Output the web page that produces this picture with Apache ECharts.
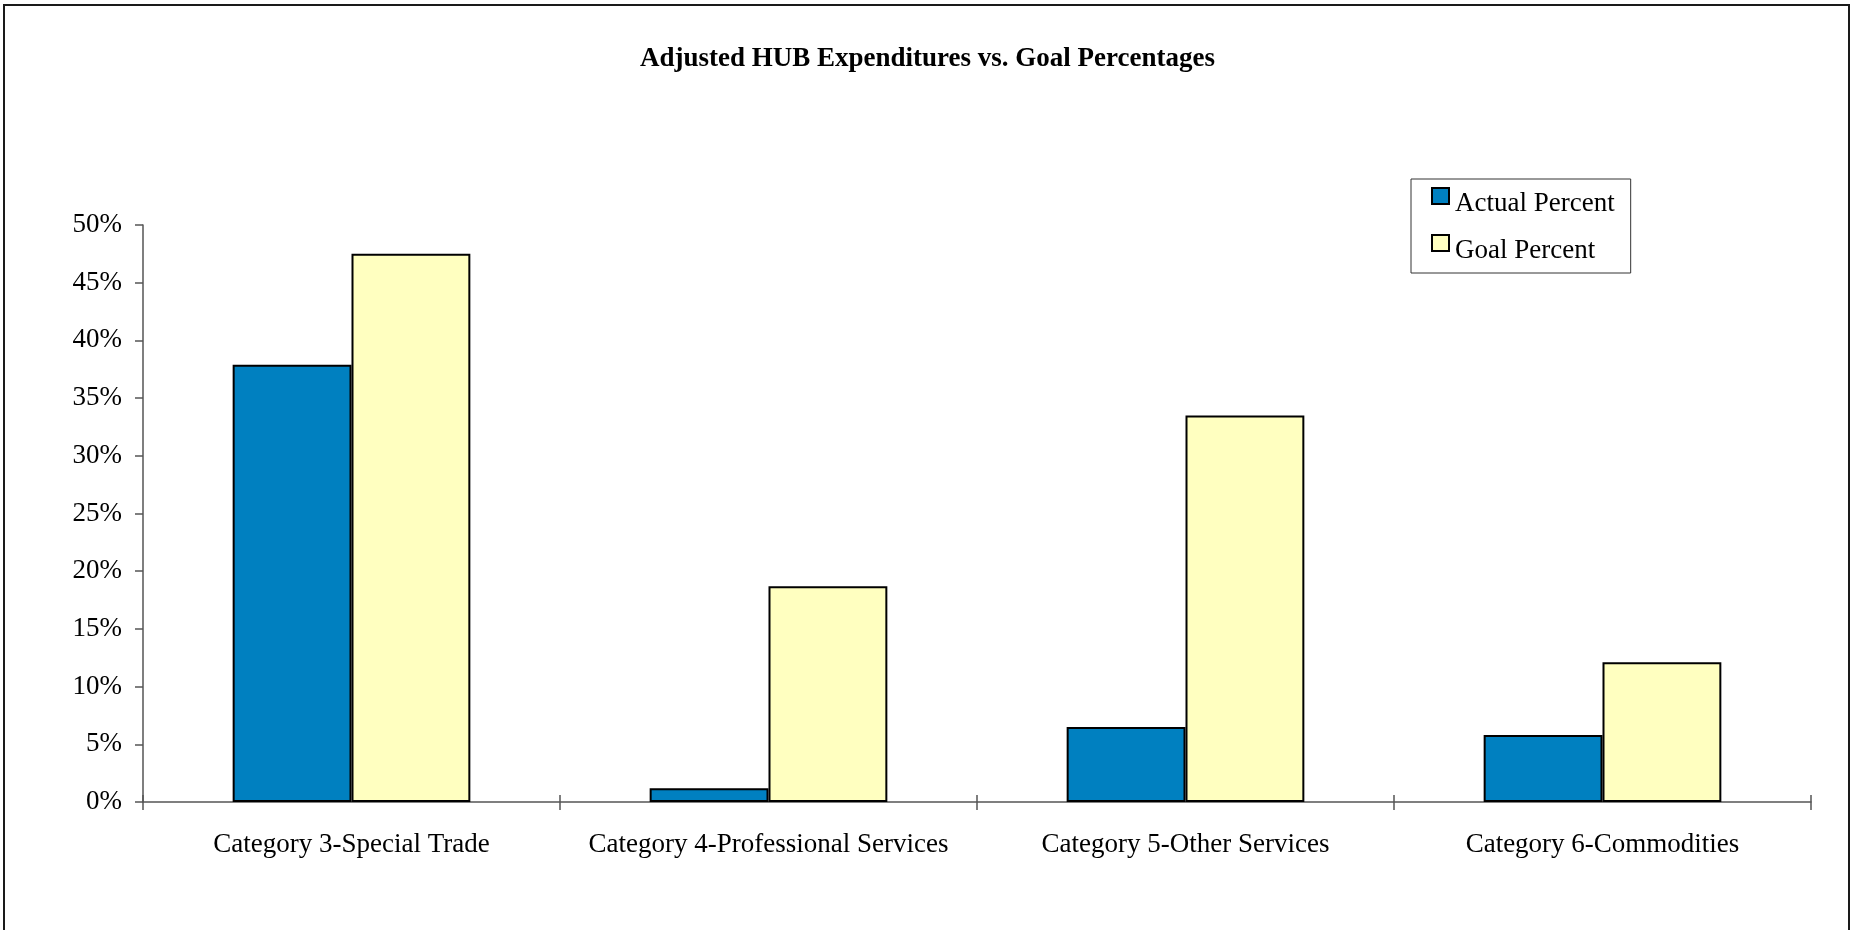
<!DOCTYPE html>
<html>
<head>
<meta charset="utf-8">
<title>Adjusted HUB Expenditures vs. Goal Percentages</title>
<script src="https://cdn.jsdelivr.net/npm/echarts@6/dist/echarts.min.js"></script>
<style>
  html, body { margin: 0; padding: 0; background: #ffffff; }
  #chart { width: 1855px; height: 930px; }
</style>
</head>
<body>
<div id="chart"></div>
<script>
// HUB categories and percentages (in %)
const categories = [
  'Category 3-Special Trade',
  'Category 4-Professional Services',
  'Category 5-Other Services',
  'Category 6-Commodities'
];
const actualPercent = [37.9, 1.2, 6.5, 5.8];
const goalPercent = [47.5, 18.7, 33.5, 12.1];
const seriesNames = ['Actual Percent', 'Goal Percent'];
const seriesColors = ['#0080C0', '#FFFFC0'];
const yTicks = { min: 0, max: 50, interval: 5 };

const FONT = '"Liberation Serif", "Times New Roman", serif';

// Legend swatch: a bordered square sitting at the top of a taller box,
// so the label reads slightly below the swatch.
function swatch(color) {
  const svg = '<svg xmlns="http://www.w3.org/2000/svg" width="19" height="33" viewBox="0 0 19 33">' +
    '<rect x="1" y="1" width="17" height="16" fill="' + color + '" stroke="#000000" stroke-width="2"/></svg>';
  return 'image://data:image/svg+xml;charset=utf-8,' + encodeURIComponent(svg);
}

const chart = echarts.init(document.getElementById('chart'), null, { renderer: 'canvas' });

const barBorder = { borderColor: '#000000', borderWidth: 2 };

chart.setOption({
  backgroundColor: '#ffffff',
  animation: false,
  title: {
    text: 'Adjusted HUB Expenditures vs. Goal Percentages',
    left: 'center',
    top: 46,
    padding: 0,
    textStyle: { fontFamily: FONT, fontSize: 27, fontWeight: 'bold', color: '#000000' }
  },
  legend: {
    data: seriesNames.map((name, i) => ({ name: name, icon: swatch(seriesColors[i]) })),
    orient: 'vertical',
    left: 1411,
    top: 179,
    padding: [8, 16, 6, 20],
    itemWidth: 19,
    itemHeight: 33,
    itemGap: 14,
    borderColor: '#333333',
    borderWidth: 1,
    backgroundColor: '#ffffff',
    textStyle: { fontFamily: FONT, fontSize: 27, color: '#000000' }
  },
  grid: { left: 143, right: 44, top: 225, bottom: 128, containLabel: false },
  xAxis: [
    {
      type: 'category',
      data: categories,
      position: 'bottom',
      axisLine: { lineStyle: { color: '#555555', width: 1.5 } },
      axisTick: { show: true, length: 8, alignWithLabel: false, lineStyle: { color: '#555555', width: 1.5 } },
      axisLabel: { margin: 29, interval: 0, fontFamily: FONT, fontSize: 27, color: '#000000' },
      splitLine: { show: false }
    },
    {
      // second pass over the same categories so the boundary ticks cross the axis
      type: 'category',
      data: categories,
      position: 'bottom',
      axisLine: { show: false },
      axisTick: { show: true, inside: true, length: 7, lineStyle: { color: '#555555', width: 1.5 } },
      axisLabel: { show: false },
      splitLine: { show: false }
    }
  ],
  yAxis: {
    type: 'value',
    min: yTicks.min,
    max: yTicks.max,
    interval: yTicks.interval,
    axisLine: { show: true, lineStyle: { color: '#555555', width: 1.5 } },
    axisTick: { show: true, length: 8, lineStyle: { color: '#555555', width: 1.5 } },
    axisLabel: {
      margin: 21,
      fontFamily: FONT,
      fontSize: 27,
      color: '#000000',
      formatter: v => v + '%'
    },
    splitLine: { show: false }
  },
  series: [
    {
      name: seriesNames[0],
      type: 'bar',
      data: actualPercent,
      barGap: '0%',
      barCategoryGap: '43%',
      itemStyle: Object.assign({ color: seriesColors[0] }, barBorder)
    },
    {
      name: seriesNames[1],
      type: 'bar',
      data: goalPercent,
      barGap: '0%',
      barCategoryGap: '43%',
      itemStyle: Object.assign({ color: seriesColors[1] }, barBorder)
    }
  ],
  graphic: [
    {
      // frame around the chart area
      type: 'rect',
      shape: { x: 4, y: 5, width: 1845, height: 1000 },
      style: { fill: 'none', stroke: '#1a1a1a', lineWidth: 2 },
      silent: true,
      z: 100
    }
  ]
});
</script>
</body>
</html>
